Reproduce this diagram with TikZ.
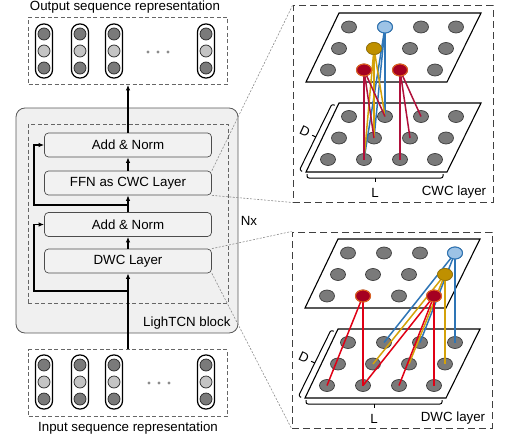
\documentclass[tikz,border=0pt]{standalone}
\usepackage{fontspec}
\setmainfont{Liberation Sans}
\usetikzlibrary{arrows.meta,shapes.geometric}
\pgfdeclarelayer{fg}
\pgfsetlayers{main,fg}
\definecolor{blockfill}{HTML}{F0F0F0}
\definecolor{boxfill}{HTML}{F2F2F2}
\definecolor{nodegray}{HTML}{7A7A7A}
\definecolor{nodeedge}{HTML}{3A3A3A}
\definecolor{lightgrayn}{HTML}{C4C4C4}
\definecolor{bluefill}{HTML}{9DC3E6}
\definecolor{blueedge}{HTML}{2E75B6}
\definecolor{goldfill}{HTML}{BF9000}
\definecolor{goldedge}{HTML}{9C7600}
\definecolor{goldline}{HTML}{D4A20A}
\definecolor{redfill}{HTML}{A50021}
\definecolor{rededge}{HTML}{E06020}
\definecolor{cwcred}{HTML}{B0103A}
\definecolor{dwcred}{HTML}{E00015}
\tikzset{
 lblock/.style={draw=black!65, fill=blockfill, rounded corners=9pt, minimum width=222pt, minimum height=225pt, inner sep=0pt, line width=0.8pt},
 nxbox/.style={draw=black!60, dash pattern=on 4pt off 2.5pt, minimum width=200pt, minimum height=179pt, inner sep=0pt, line width=0.7pt},
 layerbox/.style={draw=black!70, fill=boxfill, rounded corners=4pt, minimum width=167pt, minimum height=24pt, inner sep=0pt, line width=0.7pt},
 seqbox/.style={draw=black!60, dash pattern=on 4pt off 2.5pt, minimum width=199pt, minimum height=67pt, inner sep=0pt, line width=0.7pt},
 capsule/.style={draw=black, fill=white, rounded corners=8pt, minimum width=17pt, minimum height=54pt, inner sep=0pt, line width=1.2pt},
 darkn/.style={circle, draw=black!85, fill=nodegray, minimum size=12pt, inner sep=0pt, line width=0.7pt},
 midn/.style={darkn, fill=lightgrayn},
 dotn/.style={circle, fill=black!45, minimum size=3.2pt, inner sep=0pt},
 flow/.style={line width=1.4pt, -{Latex[length=5.5pt,width=4.5pt]}},
 linkline/.style={draw=black!45, dash pattern=on 2pt off 1.5pt, line width=0.6pt},
 panelbox/.style={draw=black!75, dash pattern=on 7pt off 4pt, minimum width=200pt, minimum height=196pt, inner sep=0pt, line width=1pt},
 plane/.style={draw=black, fill=white, line width=1.1pt},
 gnode/.style={ellipse, draw=nodeedge, fill=nodegray, minimum width=15pt, minimum height=12pt, inner sep=0pt, line width=0.7pt},
 bluen/.style={gnode, fill=bluefill, draw=blueedge, line width=1pt},
 goldn/.style={gnode, fill=goldfill, draw=goldedge},
 redn/.style={gnode, fill=redfill, draw=rededge, line width=1.1pt},
 bracket/.style={draw=black, line width=1pt, rounded corners=2pt},
 conn/.style={line width=1.5pt},
}
\newcommand\lcpanel[2]{%
 \node[panelbox] (#1p) at (393,104) {};
 \draw[plane] (306,82) -- (447,82) -- (481,13) -- (339,13) -- cycle;
 \draw[plane] (306,172) -- (447,172) -- (481,103) -- (339,103) -- cycle;
 \foreach \k in {0,1,2}{\foreach \j in {0,1,2,3}{%
   \pgfmathtruncatemacro\gx{328.5+35.8*\j+10.5*\k}%
   \node[gnode] (#1t-\k-\j) at ({\gx},{70-21.5*\k}) {};
   \node[gnode] (#1b-\k-\j) at ({\gx},{159.5-21.5*\k}) {};
 }}
 \draw[bracket] (334.7,105.3) -- (332,104) -- (299.5,170) -- (302.2,171.3);
 \draw[line width=1pt] (315.75,137) -- (312.2,135.3);
 \node[rotate=-25] (#1D) at (305,131) {D};
 \draw[bracket] (307,174) -- (307,178) -- (443,178) -- (443,174);
 \draw[line width=1pt] (375,178) -- (375,182);
 \node[anchor=base] (#1L) at (375,197) {L};
 \node[anchor=base] (#1lab) at (454,195) {#2};
}
\begin{document}
\begin{tikzpicture}[x=1pt,y=-1pt,font=\fontsize{13.3pt}{16pt}\selectfont]
\useasboundingbox (0,0) rectangle (505,436);

% LighTCN block
\node[lblock] (blk) at (127,220.5) {};
\node[nxbox] (nx) at (128,213.5) {};
\node[anchor=base east] (blab) at (234,326) {LighTCN block};
\node (nxlab) at (249,221) {Nx};

\node[layerbox] (an1) at (128,145) {Add \& Norm};
\node[layerbox] (ffn) at (128,183) {FFN as CWC Layer};
\node[layerbox] (an2) at (128,224.5) {Add \& Norm};
\node[layerbox] (dwc) at (128,261) {DWC Layer};

% sequences
\node[seqbox] (outb) at (128,51) {};
\node[anchor=base] (otitle) at (125,11) {Output sequence representation};
\foreach \x [count=\i] in {44,80,114,206}{
  \node[capsule] (ocap\i) at (\x,51) {};
  \node[darkn] (oa\i) at (\x,34) {};
  \node[midn] (ob\i) at (\x,51) {};
  \node[darkn] (oc\i) at (\x,68) {};
}
\foreach \x [count=\i] in {148,158,168} \node[dotn] (odot\i) at (\x,52) {};

\node[seqbox] (inb) at (128,383) {};
\node[anchor=base] (ititle) at (128,431) {Input sequence representation};
\foreach \x [count=\i] in {44,80,114,206}{
  \node[capsule] (icap\i) at (\x,382) {};
  \node[darkn] (ia\i) at (\x,365) {};
  \node[midn] (ib\i) at (\x,382) {};
  \node[darkn] (ic\i) at (\x,399) {};
}
\foreach \x [count=\i] in {149,159,169} \node[dotn] (idot\i) at (\x,383) {};

% main flow
\draw[flow] (inb.north) -- (dwc.south);
\draw[flow] (dwc) -- (an2);
\draw[flow] (an2) -- (ffn);
\draw[flow] (ffn) -- (an1);
\draw[flow] (an1) -- (outb.south);
\coordinate (r1) at (128,291);
\coordinate (r1c) at (34,291);
\draw[flow] (r1) -- (r1c) |- (an2.west);
\coordinate (r2) at (128,205);
\coordinate (r2c) at (34,205);
\draw[flow] (r2) -- (r2c) |- (an1.west);

% panels
\lcpanel{c}{CWC layer}
\begin{scope}[shift={(-1,226)}]
\lcpanel{d}{DWC layer}
\end{scope}

% link lines
\draw[linkline] (ffn.north east) -- (cp.north west);
\draw[linkline] (ffn.south east) -- (cp.south west);
\draw[linkline] (dwc.north east) -- (dp.north west);
\draw[linkline] (dwc.south east) -- (dp.south west);

% colored nodes (front layer)
\begin{pgfonlayer}{fg}
\node[bluen] (cB) at (ct-2-1) {};
\node[goldn] (cG) at (ct-1-1) {};
\node[redn] (cR1) at (ct-0-1) {};
\node[redn] (cR2) at (ct-0-2) {};
\node[bluen] (dB) at (dt-2-3) {};
\node[goldn] (dG) at (dt-1-3) {};
\node[redn] (dR1) at (dt-0-1) {};
\node[redn] (dR2) at (dt-0-3) {};
\end{pgfonlayer}

% CWC connections
\foreach \k in {0,1,2}{
  \draw[conn,blueedge] (cB.center) -- (cb-\k-1.center);
  \draw[conn,goldline] (cG.center) -- (cb-\k-1.center);
  \draw[conn,cwcred] (cR1.center) -- (cb-\k-1.center);
  \draw[conn,cwcred] (cR2.center) -- (cb-\k-2.center);
}
% DWC connections
\foreach \j in {1,2,3}{
  \draw[conn,blueedge] (dB.center) -- (db-2-\j.center);
  \draw[conn,goldline] (dG.center) -- (db-1-\j.center);
  \draw[conn,dwcred] (dR2.center) -- (db-0-\j.center);
}
\foreach \j in {0,1}{
  \draw[conn,dwcred] (dR1.center) -- (db-0-\j.center);
}
\end{tikzpicture}
\end{document}
